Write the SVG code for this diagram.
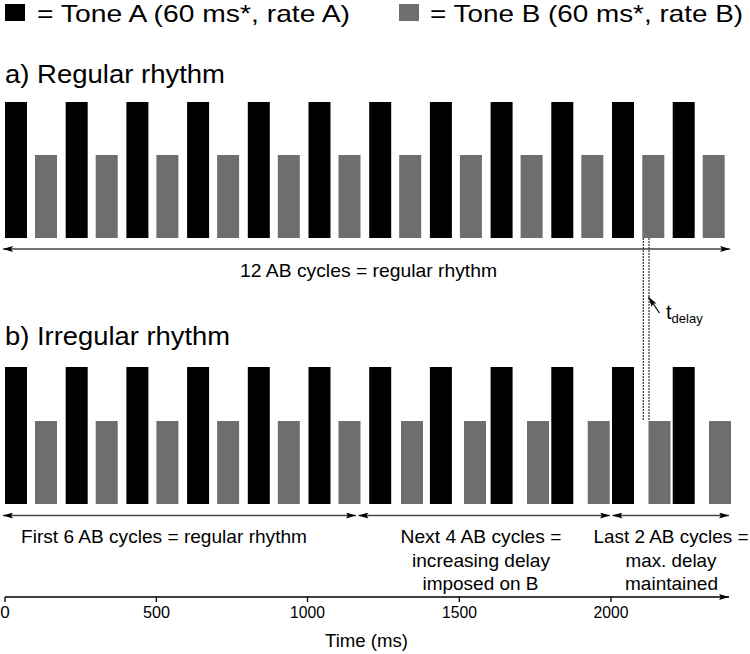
<svg xmlns="http://www.w3.org/2000/svg" width="750" height="654" viewBox="0 0 750 654">
<defs>
<style>
text{font-family:"Liberation Sans",Arial,sans-serif;fill:#000}
.a{fill:#000}
.b{fill:#6e6e6e}
.big{font-size:25px}
.leg{font-size:24px}
.mid{font-size:19px}
.tick{font-size:17px}
.conn{stroke:#444;stroke-width:1.5;fill:none}
.dot{stroke:#333;stroke-width:1.2;stroke-dasharray:2 1;fill:none}
</style>
<marker id="ah" viewBox="0 0 10 6" refX="10" refY="3" markerWidth="10" markerHeight="6" markerUnits="userSpaceOnUse" orient="auto-start-reverse">
<path d="M0,0 L10,3 L0,6 L2,3 z" fill="#000"/>
</marker>
</defs>
<g id="legend">
<rect class="a" x="5" y="4" width="20" height="17"/>
<text class="leg" x="37" y="21.5" textLength="313" lengthAdjust="spacingAndGlyphs">= Tone A (60 ms*, rate A)</text>
<rect class="b" x="399" y="4" width="20" height="17"/>
<text class="leg" x="430" y="21.5" textLength="313" lengthAdjust="spacingAndGlyphs">= Tone B (60 ms*, rate B)</text>
</g>
<g id="titles">
<text class="big" x="5" y="83" textLength="220" lengthAdjust="spacingAndGlyphs">a) Regular rhythm</text>
<text class="big" x="5" y="345" textLength="225" lengthAdjust="spacingAndGlyphs">b) Irregular rhythm</text>
</g>
<g id="row-a">
<rect class="a" x="5" y="102" width="22" height="136"/>
<rect class="a" x="65.7" y="102" width="22" height="136"/>
<rect class="a" x="126.4" y="102" width="22" height="136"/>
<rect class="a" x="187.1" y="102" width="22" height="136"/>
<rect class="a" x="247.8" y="102" width="22" height="136"/>
<rect class="a" x="308.5" y="102" width="22" height="136"/>
<rect class="a" x="369.2" y="102" width="22" height="136"/>
<rect class="a" x="429.9" y="102" width="22" height="136"/>
<rect class="a" x="490.6" y="102" width="22" height="136"/>
<rect class="a" x="551.3" y="102" width="22" height="136"/>
<rect class="a" x="612" y="102" width="22" height="136"/>
<rect class="a" x="672.7" y="102" width="22" height="136"/>
<rect class="b" x="35" y="155" width="22" height="83"/>
<rect class="b" x="95.7" y="155" width="22" height="83"/>
<rect class="b" x="156.4" y="155" width="22" height="83"/>
<rect class="b" x="217.1" y="155" width="22" height="83"/>
<rect class="b" x="277.8" y="155" width="22" height="83"/>
<rect class="b" x="338.5" y="155" width="22" height="83"/>
<rect class="b" x="399.2" y="155" width="22" height="83"/>
<rect class="b" x="459.9" y="155" width="22" height="83"/>
<rect class="b" x="520.6" y="155" width="22" height="83"/>
<rect class="b" x="581.3" y="155" width="22" height="83"/>
<rect class="b" x="642.3" y="155" width="22" height="83"/>
<rect class="b" x="702.7" y="155" width="22" height="83"/>
</g>
<g id="row-b">
<rect class="a" x="5" y="367" width="22" height="137"/>
<rect class="a" x="65.7" y="367" width="22" height="137"/>
<rect class="a" x="126.4" y="367" width="22" height="137"/>
<rect class="a" x="187.1" y="367" width="22" height="137"/>
<rect class="a" x="247.8" y="367" width="22" height="137"/>
<rect class="a" x="308.5" y="367" width="22" height="137"/>
<rect class="a" x="369.2" y="367" width="22" height="137"/>
<rect class="a" x="429.9" y="367" width="22" height="137"/>
<rect class="a" x="490.6" y="367" width="22" height="137"/>
<rect class="a" x="551.3" y="367" width="22" height="137"/>
<rect class="a" x="612" y="367" width="22" height="137"/>
<rect class="a" x="672.7" y="367" width="22" height="137"/>
<rect class="b" x="35" y="421" width="22" height="83"/>
<rect class="b" x="95.7" y="421" width="22" height="83"/>
<rect class="b" x="156.4" y="421" width="22" height="83"/>
<rect class="b" x="217.1" y="421" width="22" height="83"/>
<rect class="b" x="277.8" y="421" width="22" height="83"/>
<rect class="b" x="338.5" y="421" width="22" height="83"/>
<rect class="b" x="401" y="421" width="22" height="83"/>
<rect class="b" x="464" y="421" width="22" height="83"/>
<rect class="b" x="527" y="421" width="22" height="83"/>
<rect class="b" x="587.7" y="421" width="22" height="83"/>
<rect class="b" x="648.5" y="421" width="22" height="83"/>
<rect class="b" x="709" y="421" width="22" height="83"/>
</g>
<g id="connectors">
<line class="conn" x1="3" y1="249" x2="730" y2="249" marker-start="url(#ah)" marker-end="url(#ah)"/>
<line class="conn" x1="3" y1="515.5" x2="356" y2="515.5" marker-start="url(#ah)" marker-end="url(#ah)"/>
<line class="conn" x1="358.5" y1="515.5" x2="610" y2="515.5" marker-start="url(#ah)" marker-end="url(#ah)"/>
<line class="conn" x1="612.5" y1="515.5" x2="729" y2="515.5" marker-start="url(#ah)" marker-end="url(#ah)"/>
<line class="dot" x1="643.3" y1="238" x2="643.3" y2="421"/>
<line class="dot" x1="649" y1="238" x2="649" y2="421"/>
<line stroke="#000" stroke-width="1.3" x1="659.5" y1="313" x2="648.5" y2="297" marker-end="url(#ah)"/>
</g>
<g id="labels">
<text class="mid" x="368.5" y="277" text-anchor="middle" textLength="257" lengthAdjust="spacingAndGlyphs">12 AB cycles = regular rhythm</text>
<text class="mid" x="21" y="543" textLength="286" lengthAdjust="spacingAndGlyphs">First 6 AB cycles = regular rhythm</text>
<text class="mid" x="481" y="543" text-anchor="middle" textLength="161" lengthAdjust="spacingAndGlyphs">Next 4 AB cycles =</text>
<text class="mid" x="481" y="567" text-anchor="middle" textLength="138" lengthAdjust="spacingAndGlyphs">increasing delay</text>
<text class="mid" x="480.5" y="590" text-anchor="middle" textLength="116" lengthAdjust="spacingAndGlyphs">imposed on B</text>
<text class="mid" x="593.5" y="543" textLength="155" lengthAdjust="spacingAndGlyphs">Last 2 AB cycles =</text>
<text class="mid" x="671" y="567" text-anchor="middle" textLength="91" lengthAdjust="spacingAndGlyphs">max. delay</text>
<text class="mid" x="671.5" y="590" text-anchor="middle" textLength="93" lengthAdjust="spacingAndGlyphs">maintained</text>
<text x="666" y="319" font-size="20">t<tspan font-size="13" dy="4">delay</tspan></text>
</g>
<g id="axis">
<line stroke="#000" stroke-width="1.3" x1="5" y1="597" x2="729" y2="597" marker-end="url(#ah)"/>
<path stroke="#000" stroke-width="1.3" fill="none" d="M5,597v5M156.3,597v5M307.5,597v5M459.3,597v5M611,597v5"/>
<text class="tick" x="5" y="618" text-anchor="middle">0</text>
<text class="tick" x="156.5" y="618" text-anchor="middle" textLength="27" lengthAdjust="spacingAndGlyphs">500</text>
<text class="tick" x="307.5" y="618" text-anchor="middle" textLength="35" lengthAdjust="spacingAndGlyphs">1000</text>
<text class="tick" x="459.5" y="618" text-anchor="middle" textLength="35" lengthAdjust="spacingAndGlyphs">1500</text>
<text class="tick" x="611" y="618" text-anchor="middle" textLength="35" lengthAdjust="spacingAndGlyphs">2000</text>
<text x="366.5" y="647" font-size="18" text-anchor="middle" textLength="83" lengthAdjust="spacingAndGlyphs">Time (ms)</text>
</g>
</svg>
